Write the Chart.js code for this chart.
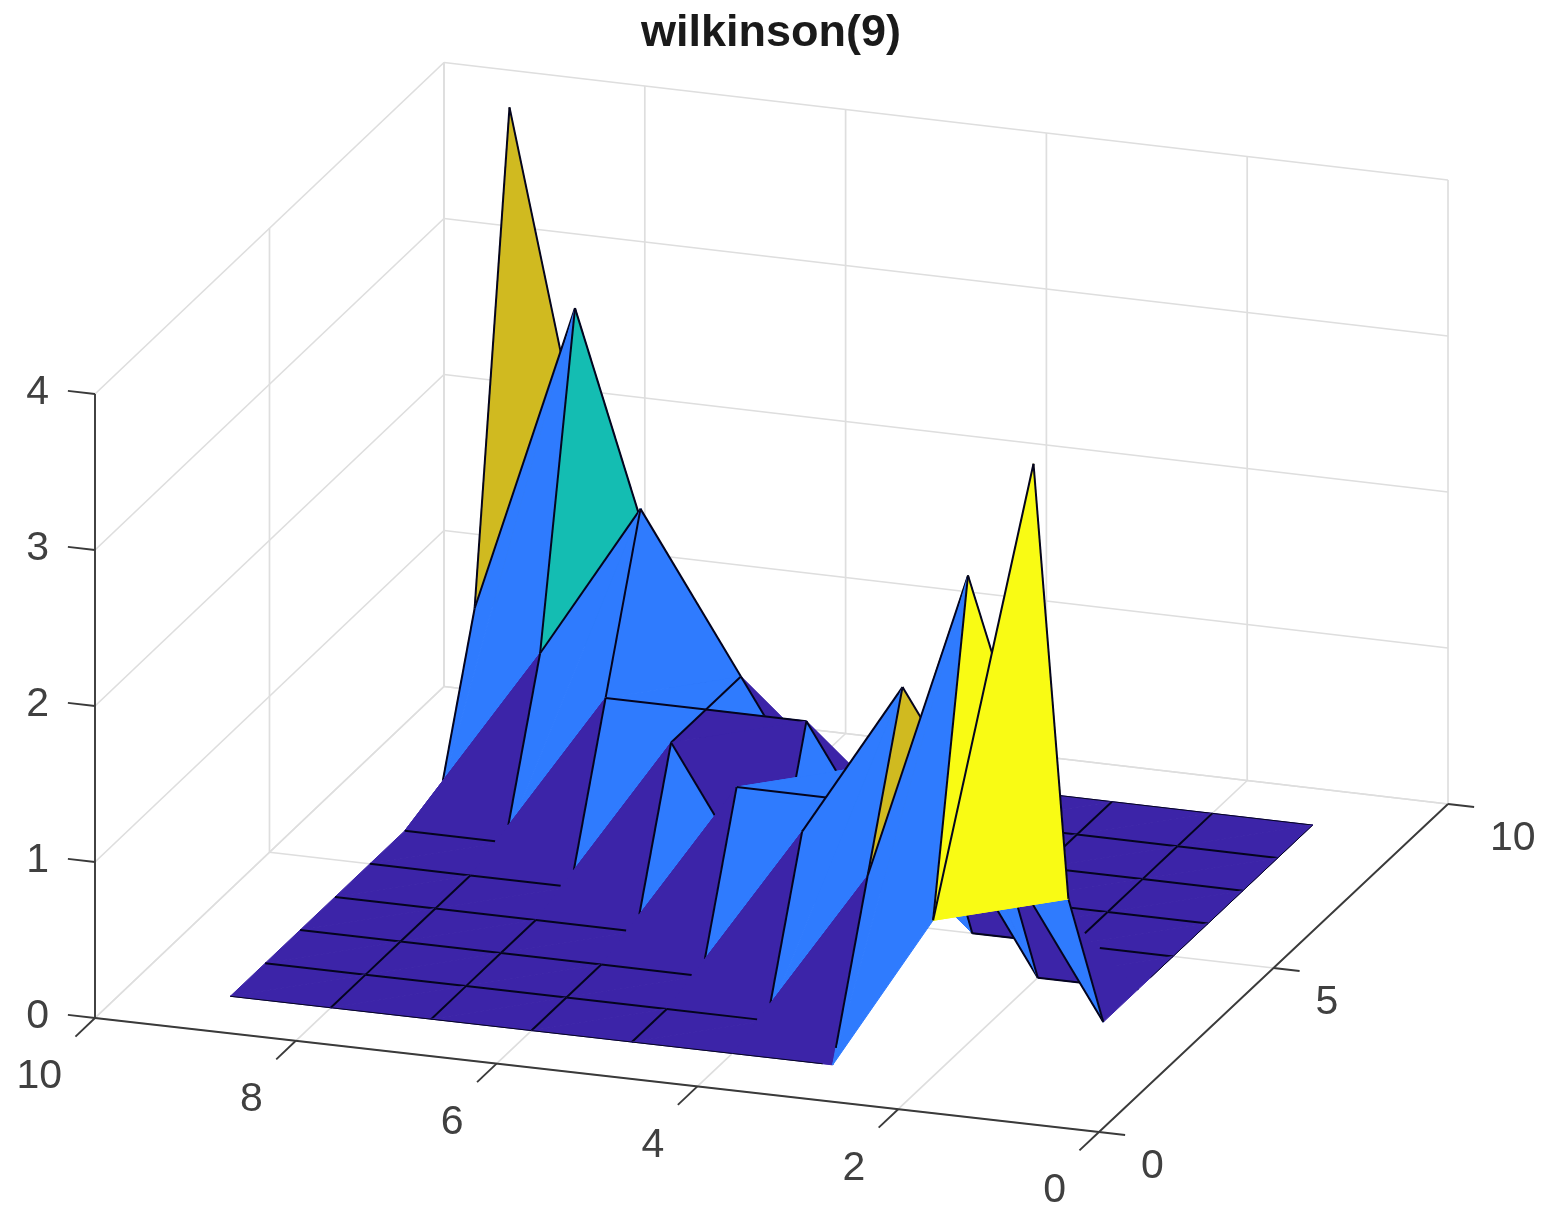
<!DOCTYPE html>
<html>
<head>
<meta charset="utf-8">
<title>wilkinson(9)</title>
<script src="https://cdn.jsdelivr.net/npm/chart.js@4"></script>
<style>
  html, body { margin: 0; padding: 0; background: #fff; }
  canvas { display: block; }
</style>
</head>
<body>
<canvas id="surfChart" width="1547" height="1212"></canvas>
<script>
// surface heights (row = y, column = x)
const row1 = [4, 1, 0, 0, 0, 0, 0, 0, 0];
const row2 = [1, 3, 1, 0, 0, 0, 0, 0, 0];
const row3 = [0, 1, 2, 1, 0, 0, 0, 0, 0];
const row4 = [0, 0, 1, 1, 1, 0, 0, 0, 0];
const row5 = [0, 0, 0, 1, 0, 1, 0, 0, 0];
const row6 = [0, 0, 0, 0, 1, 1, 1, 0, 0];
const row7 = [0, 0, 0, 0, 0, 1, 2, 1, 0];
const row8 = [0, 0, 0, 0, 0, 0, 1, 3, 1];
const row9 = [0, 0, 0, 0, 0, 0, 0, 1, 4];
const rows = [row1, row2, row3, row4, row5, row6, row7, row8, row9];

const xTicks = [0, 2, 4, 6, 8, 10];
const yTicks = [0, 5, 10];
const zTicks = [0, 1, 2, 3, 4];
const chartTitle = "wilkinson(9)";

// flat colours for heights 0..4
const faceColors = ["#3c24a8", "#2f7bfe", "#14bdb2", "#d0ba20", "#f9fb14"];
const edgeColor = "#04041e";
const gridColor = "#dedede";
const axisColor = "#3a3a3a";

// view projection of the box, the x*y term is the slight perspective
function project(x, y, z) {
  return {
    x: 1099 - 100.4 * x + 34.9 * y,
    y: 1132 - 11.4 * x - 32.8 * y - 0.035 * x * y - 156 * z
  };
}

const datasets = [];

function addLine(points, color, width) {
  datasets.push({
    data: points,
    showLine: true,
    fill: false,
    borderColor: color,
    borderWidth: width,
    pointRadius: 0,
    tension: 0,
    clip: false
  });
}

function addFace(points, color) {
  datasets.push({
    data: points.concat([points[0]]),
    showLine: true,
    fill: "shape",
    backgroundColor: color,
    borderColor: color,
    borderWidth: 1,
    pointRadius: 0,
    tension: 0,
    clip: false
  });
}

function height(i, j) {
  return rows[j - 1][i - 1];
}

function vertex(i, j) {
  return project(i, j, height(i, j));
}

// grid on the floor and the two back walls
function addGrid() {
  xTicks.forEach(x => {
    addLine([project(x, 0, 0), project(x, 10, 0)], gridColor, 1.7);
    addLine([project(x, 10, 0), project(x, 10, 4)], gridColor, 1.7);
  });
  yTicks.forEach(y => {
    addLine([project(0, y, 0), project(10, y, 0)], gridColor, 1.7);
    addLine([project(10, y, 0), project(10, y, 4)], gridColor, 1.7);
  });
  zTicks.forEach(z => {
    addLine([project(0, 10, z), project(10, 10, z)], gridColor, 1.7);
    addLine([project(10, 10, z), project(10, 0, z)], gridColor, 1.7);
  });
}

function addAxes() {
  addLine([project(10, 0, 0), project(0, 0, 0)], axisColor, 1.9);
  addLine([project(0, 0, 0), project(0, 10, 0)], axisColor, 1.9);
  addLine([project(10, 0, 0), project(10, 0, 4)], axisColor, 1.9);
  xTicks.forEach(x => addLine([project(x, 0, 0), project(x, -0.56, 0)], axisColor, 1.9));
  yTicks.forEach(y => addLine([project(0, y, 0), project(-0.26, y, 0)], axisColor, 1.9));
  zTicks.forEach(z => addLine([project(10, 0, z), project(10.27, 0, z)], axisColor, 1.9));
}

// edge along x at row j, from column i to i + 1
function addEdgeX(i, j) {
  let from = i;
  let to = i + 1;
  if (i === j + 1) return;
  if (i === j + 2) from = i + 0.1;
  if (j === 5 && i === 1) to = 1.73;
  const a = height(i, j), b = height(i + 1, j);
  const onRim = j === 1 || j === 9;
  const width = onRim && a === 0 && b === 0 ? 1 : 2;
  addLine([
    project(from, j, a + (b - a) * (from - i)),
    project(to, j, a + (b - a) * (to - i))
  ], edgeColor, width);
}

// edge along y at column i, from row j to j + 1
function addEdgeY(i, j) {
  let from = j;
  if (i === 9 && j < 7) return;
  if (j === i - 3 || j === i + 2) return;
  if (j === i - 2) from = j + 0.09;
  if (j === i + 3) from = j + 0.35;
  const a = height(i, j), b = height(i, j + 1);
  const width = i === 1 && a === 0 && b === 0 ? 1 : 2;
  addLine([
    project(i, from, a + (b - a) * (from - j)),
    project(i, j + 1, b)
  ], edgeColor, width);
}

function addSurface() {
  const cells = [];
  for (let j = 1; j <= 8; j++) {
    for (let i = 1; i <= 8; i++) cells.push({ i, j });
  }
  // far cells first
  cells.sort((a, b) => (b.i + 2.88 * b.j) - (a.i + 2.88 * a.j));

  cells.forEach(({ i, j }) => {
    const color = faceColors[height(i, j)];
    addFace([vertex(i + 1, j), vertex(i + 1, j + 1), vertex(i, j + 1)], color);
    addEdgeY(i + 1, j);
    addEdgeX(i, j + 1);
    addFace([vertex(i, j), vertex(i + 1, j), vertex(i, j + 1)], color);
    if (j === 1) addEdgeX(i, j);
    if (i === 1) addEdgeY(i, j);
  });
}

addGrid();
addAxes();
addSurface();

// Chart.js draws the first dataset on top, so later ones get a lower order
datasets.forEach((ds, k) => { ds.order = -k; });

// tick labels sit along the slanted axes
const tickLabels = {
  id: "tickLabels",
  afterDraw(chart) {
    const { ctx, scales } = chart;
    const put = (text, p, dx, dy, align) => {
      ctx.textAlign = align;
      ctx.fillText(text, scales.x.getPixelForValue(p.x) + dx, scales.y.getPixelForValue(p.y) + dy);
    };
    ctx.save();
    ctx.font = '41px "Liberation Sans", Arial, sans-serif';
    ctx.fillStyle = "#404040";
    ctx.textBaseline = "middle";
    xTicks.forEach(x => put(String(x), project(x, 0, 0), -33, 59, "right"));
    yTicks.forEach(y => put(String(y), project(0, y, 0), 42, 35, "left"));
    zTicks.forEach(z => put(String(z), project(10, 0, z), -46, -1, "right"));
    ctx.restore();
  }
};

new Chart(document.getElementById("surfChart").getContext("2d"), {
  type: "scatter",
  data: { datasets: datasets },
  plugins: [tickLabels],
  options: {
    responsive: false,
    animation: false,
    layout: { padding: { right: 5 } },
    scales: {
      x: { type: "linear", display: false, min: 0, max: 1542 },
      y: { type: "linear", display: false, min: 64, max: 1212, reverse: true }
    },
    plugins: {
      legend: { display: false },
      tooltip: { enabled: false },
      title: {
        display: true,
        text: chartTitle,
        color: "#1a1a1a",
        padding: { top: 7, bottom: 3 },
        font: { family: '"Liberation Sans", Arial, sans-serif', size: 45, weight: "bold", lineHeight: 1.2 }
      }
    }
  }
});
</script>
</body>
</html>
